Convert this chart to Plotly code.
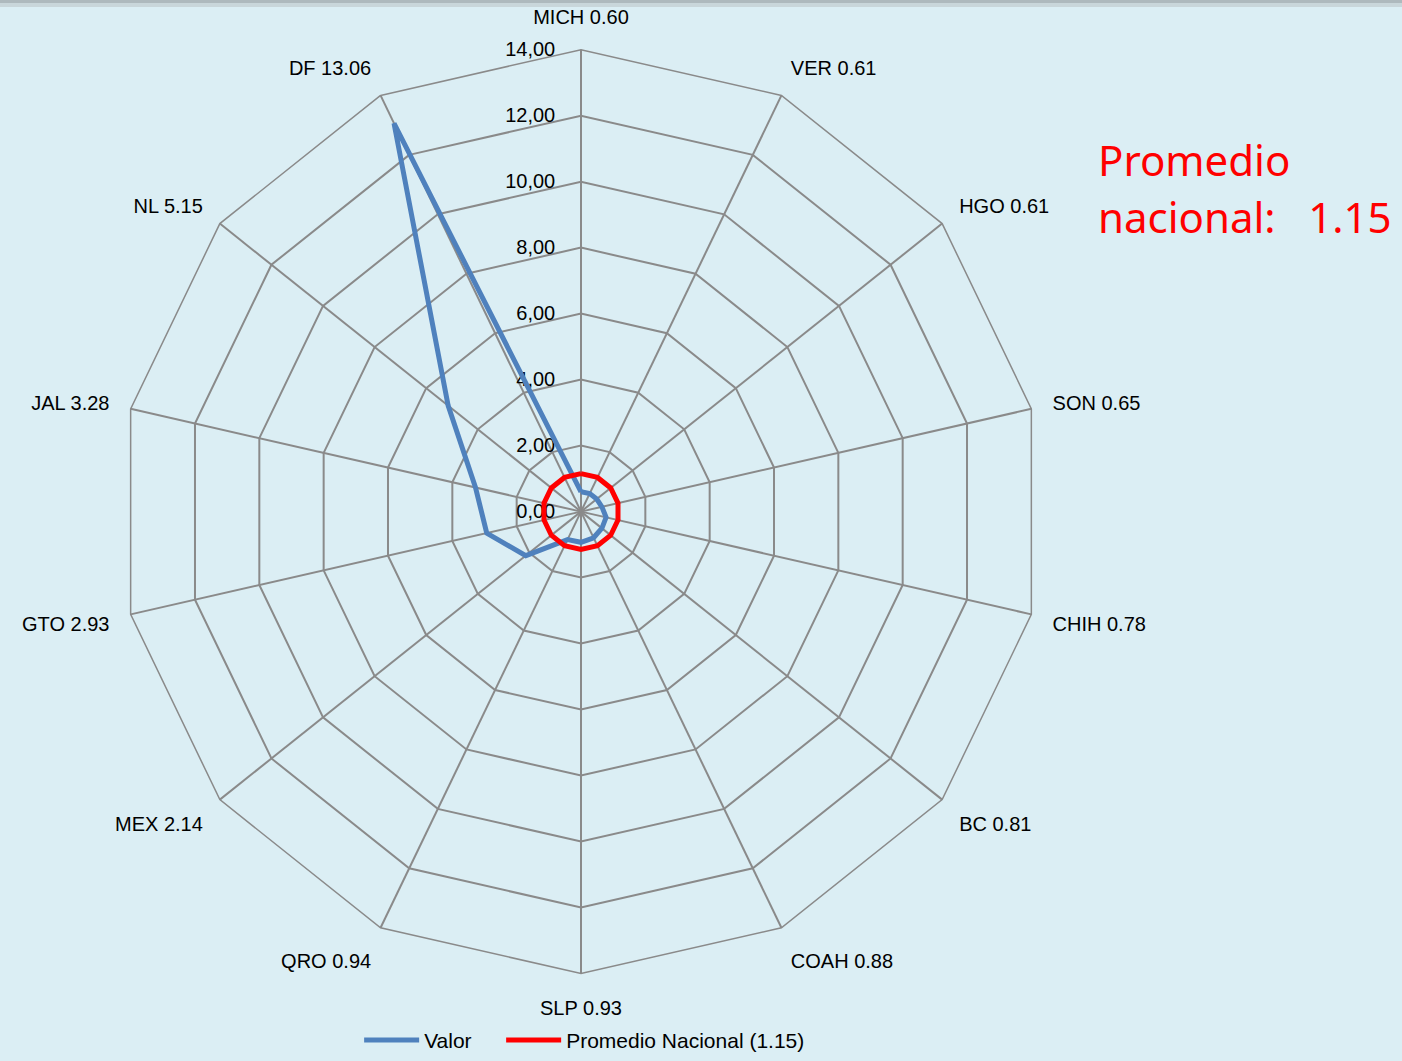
import plotly.graph_objects as go

states = ["MICH", "VER", "HGO", "SON", "CHIH", "BC", "COAH", "SLP", "QRO",
          "MEX", "GTO", "JAL", "NL", "DF"]
valor = [0.60, 0.61, 0.61, 0.65, 0.78, 0.81, 0.88, 0.93, 0.94,
         2.14, 2.93, 3.28, 5.15, 13.06]
promedio = 1.15
promedio_vals = [promedio] * len(states)
radial_ticks = [0, 2, 4, 6, 8, 10, 12, 14]

labels = [f"{s} {v:.2f}" for s, v in zip(states, valor)]
theta = labels + [labels[0]]
# tick labels with decimal comma; transparent padding pushes them left of the axis
radial_ticktext = [f"{t:.2f}".replace(".", ",") +
                   "<span style='color:rgba(0,0,0,0)'>00</span>" for t in radial_ticks]

BG = "#DBEEF4"
GRID = "#8A8A8A"

fig = go.Figure()
fig.add_trace(go.Scatterpolar(
    r=valor + [valor[0]], theta=theta, mode="lines", name="Valor",
    line=dict(color="#4F81BD", width=5), hoverinfo="r+theta", legendwidth=72))
fig.add_trace(go.Scatterpolar(
    r=promedio_vals + [promedio_vals[0]], theta=theta, mode="lines",
    name=f"Promedio Nacional ({promedio:.2f})",
    line=dict(color="#FF0000", width=5)))

W, H = 1402, 1061
cx, cy, R = 581, 515, 465
fig.update_layout(
    width=W, height=H,
    margin=dict(l=0, r=0, t=0, b=0),
    paper_bgcolor=BG, plot_bgcolor=BG,
    separators=",.",
    font=dict(family="Liberation Sans, Arial, sans-serif", size=20, color="#000000"),
    polar=dict(
        bgcolor=BG,
        gridshape="linear",
        domain=dict(x=[(cx - R) / W, (cx + R) / W],
                    y=[(H - cy - R) / H, (H - cy + R) / H]),
        radialaxis=dict(range=[0, 14], tickmode="array", tickvals=radial_ticks,
                        ticktext=radial_ticktext,
                        angle=90, tickangle=90, side="counterclockwise",
                        showline=False, ticks="", gridcolor=GRID, gridwidth=1.5,
                        tickfont=dict(size=20), layer="below traces"),
        angularaxis=dict(direction="clockwise", rotation=90, type="category",
                         categoryarray=labels, showline=True, linecolor=GRID,
                         linewidth=1.5, gridcolor=GRID, gridwidth=1.5,
                         ticks="outside", ticklen=17, tickcolor="rgba(0,0,0,0)",
                         tickfont=dict(size=20), layer="below traces"),
    ),
    legend=dict(orientation="h", x=0.417, xanchor="center", y=0.013,
                yanchor="middle", bgcolor="rgba(0,0,0,0)", itemwidth=55,
                font=dict(size=21)),
    showlegend=True,
)

fig.add_annotation(text="Promedio", x=1096 / W, y=1 - 161 / H, xref="paper",
                   yref="paper", xanchor="left", yanchor="middle", showarrow=False,
                   font=dict(family="Noto Sans, sans-serif", size=42, color="#FF0000"))
fig.add_annotation(text="nacional:\u00a0\u00a0\u00a0" + f"{promedio:.2f}", x=1096 / W,
                   y=1 - 218 / H, xref="paper", yref="paper", xanchor="left",
                   yanchor="middle", showarrow=False,
                   font=dict(family="Noto Sans, sans-serif", size=42, color="#FF0000"))

# top shadow strip
fig.add_shape(type="rect", xref="paper", yref="paper", x0=0, x1=1,
              y0=1 - 3 / H, y1=1, fillcolor="#AEB9BD", line_width=0, layer="above")
fig.add_shape(type="rect", xref="paper", yref="paper", x0=0, x1=1,
              y0=1 - 7 / H, y1=1 - 3 / H, fillcolor="#C9D6DA", line_width=0, layer="above")

fig.write_html(
    "out.html",
    config={"displayModeBar": False},
    post_script="document.body.style.margin='0';document.body.style.padding='0';"
                "document.body.style.background='#DBEEF4';"
                "document.documentElement.style.overflow='hidden';")
